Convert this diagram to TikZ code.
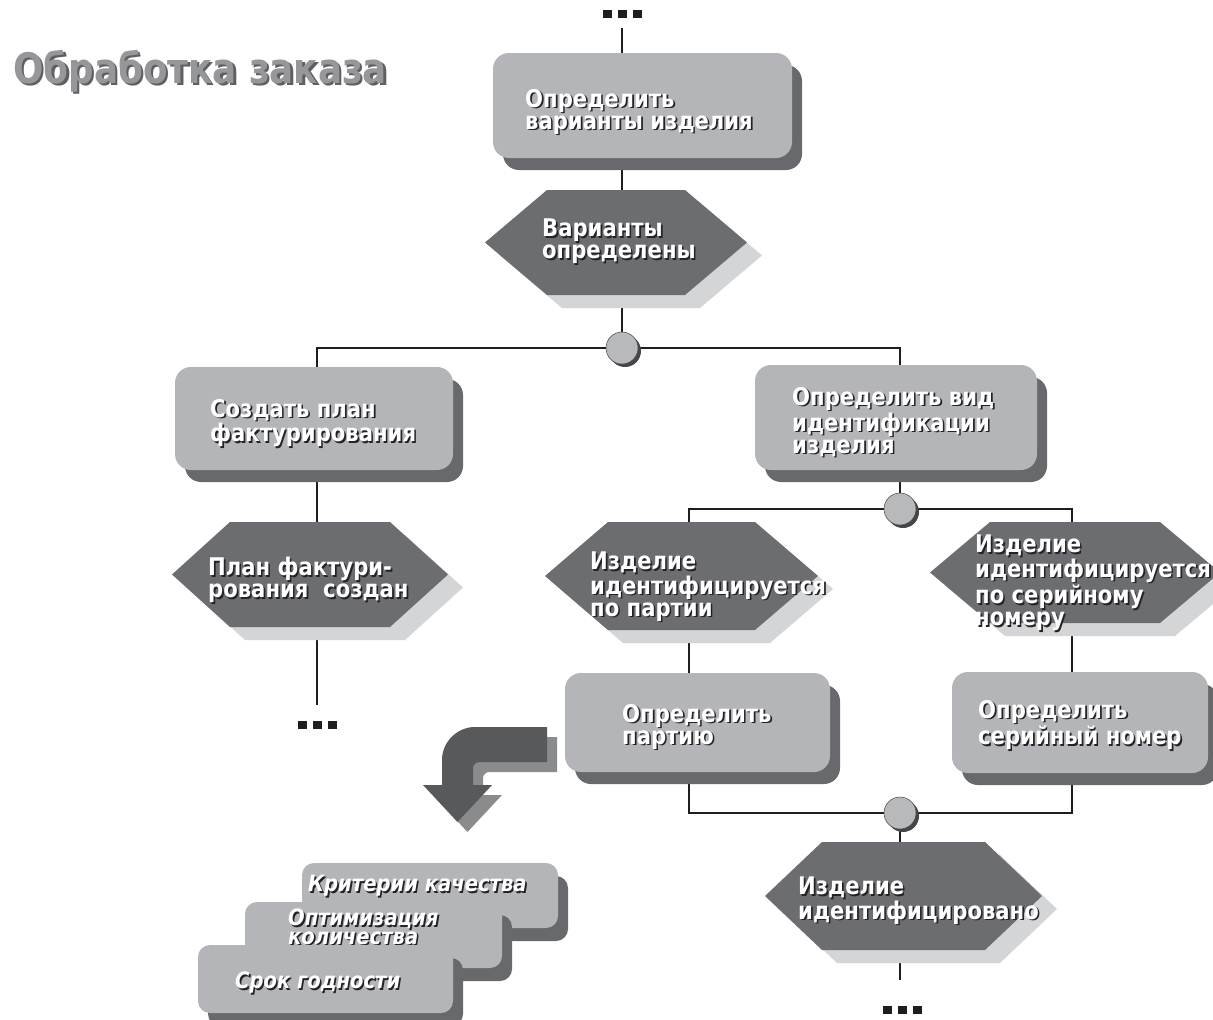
\documentclass[tikz,border=0pt]{standalone}
\usepackage{fontspec}
\setmainfont{DejaVu Sans}
\newfontfamily\lblf[FakeStretch=0.87]{DejaVu Sans}
\newfontfamily\ttlf[FakeStretch=0.85]{DejaVu Sans}
\usetikzlibrary{shadows}
\pgfdeclarelayer{bg}
\pgfsetlayers{bg,main}
\definecolor{boxfill}{RGB}{179,181,184}
\definecolor{boxsh}{RGB}{104,105,108}
\definecolor{hexfill}{RGB}{108,109,112}
\definecolor{hexsh}{RGB}{212,213,215}
\definecolor{circfill}{RGB}{184,185,187}
\definecolor{circsh}{RGB}{70,70,72}
\definecolor{arrdark}{RGB}{88,89,91}
\definecolor{arrsh}{RGB}{138,139,141}
\definecolor{titlefg}{RGB}{150,151,154}
\definecolor{titlesh}{RGB}{95,95,98}
\definecolor{tsh}{RGB}{35,35,37}
\definecolor{linec}{RGB}{30,30,30}
\newcommand\shd[1]{\leavevmode\rlap{\raisebox{-1.6pt}{\kern1.6pt\textcolor{tsh}{#1}}}#1}
\newcommand\ttlsh[1]{\leavevmode\rlap{\raisebox{-2.5pt}{\kern2.5pt\textcolor{titlesh}{#1}}}#1}
\newcommand\hexp[4]{([xshift=#3,yshift=#4]#1.west) -- ([xshift=#2+#3,yshift=#4]#1.north west) -- ([xshift=-#2+#3,yshift=#4]#1.north east) -- ([xshift=#3,yshift=#4]#1.east) -- ([xshift=-#2+#3,yshift=#4]#1.south east) -- ([xshift=#2+#3,yshift=#4]#1.south west) -- cycle}
\newcommand\dotsq{\rule{9pt}{8pt}\hspace{6pt}\rule{9pt}{8pt}\hspace{6pt}\rule{9pt}{8pt}}
\tikzset{
  pbox/.style={rounded corners=16pt, fill=boxfill, inner sep=0pt,
    drop shadow={shadow xshift=10pt, shadow yshift=-12pt, fill=boxsh, opacity=1}},
  sbox/.style={rounded corners=12pt, fill=boxfill, inner sep=0pt,
    drop shadow={shadow xshift=10pt, shadow yshift=-13pt, fill=boxsh, opacity=1}},
  hexnode/.style={inner sep=0pt, outer sep=0pt},
  lbl/.style={text=white, font=\lblf\bfseries\fontsize{24.3}{22}\selectfont, align=left, anchor=north west, inner sep=0pt},
  slbl/.style={text=white, font=\lblf\bfseries\itshape\fontsize{22.5}{16}\selectfont, align=left, anchor=north west, inner sep=0pt},
  junc/.style={circle, minimum size=32pt, inner sep=0pt, fill=circfill, draw=circsh, line width=0.5pt,
    drop shadow={shadow xshift=3pt, shadow yshift=-3pt, fill=circsh, opacity=1}},
  dotnode/.style={inner xsep=0pt, text=linec},
  conn/.style={line width=1.2pt, draw=linec}
}
\begin{document}
\begin{tikzpicture}[x=1pt,y=-1pt]
\useasboundingbox (0,0) rectangle (1213,1020);

% title
\node[anchor=base west, inner sep=0pt, text=titlefg, font=\ttlf\bfseries\fontsize{42}{42}\selectfont] (title) at (13,83) {\ttlsh{Обработка заказа}};

% dots
\node[dotnode, inner ysep=10pt] (dtop) at (622,14) {\dotsq};
\node[dotnode, inner ysep=16pt] (dL) at (317,725) {\dotsq};
\node[dotnode, inner ysep=26pt] (dB) at (902,1010) {\dotsq};

% boxes
\node[pbox, minimum width=299pt, minimum height=105pt] (b1) at (642.5,105.5) {};
\node[pbox, minimum width=278pt, minimum height=103pt] (b2) at (314,418.5) {};
\node[pbox, minimum width=282pt, minimum height=105pt] (b3) at (896,417.5) {};
\node[pbox, minimum width=265pt, minimum height=99pt] (b4) at (697.5,722.5) {};
\node[pbox, minimum width=256pt, minimum height=101pt] (b5) at (1080,722.5) {};

% hexagons
\node[hexnode, minimum width=262pt, minimum height=105pt] (h1) at (616,242.5) {};
\node[hexnode, minimum width=276pt, minimum height=105pt] (h2) at (310,574.5) {};
\node[hexnode, minimum width=273pt, minimum height=108pt] (h3) at (681.5,576) {};
\node[hexnode, minimum width=290pt, minimum height=101pt] (h4) at (1075,572.5) {};
\node[hexnode, minimum width=277pt, minimum height=108pt] (h5) at (903.5,896) {};
\fill[hexsh] \hexp{h1}{62}{15}{-13};
\fill[hexfill] \hexp{h1}{62}{0}{0};
\fill[hexsh] \hexp{h2}{58}{15}{-13};
\fill[hexfill] \hexp{h2}{58}{0}{0};
\fill[hexsh] \hexp{h3}{63}{15}{-13};
\fill[hexfill] \hexp{h3}{63}{0}{0};
\fill[hexsh] \hexp{h4}{60}{15}{-13};
\fill[hexfill] \hexp{h4}{60}{0}{0};
\fill[hexsh] \hexp{h5}{57}{15}{-13};
\fill[hexfill] \hexp{h5}{57}{0}{0};

% junctions
\node[junc] (j1) at (622,348) {};
\node[junc] (j2) at (900,509) {};
\node[junc] (j3) at (900,813) {};
\coordinate (kL) at (317,348);
\coordinate (kR) at (900,348);
\coordinate (kL2) at (689,509);
\coordinate (kR2) at (1072,509);
\coordinate (kL3) at (689,813);
\coordinate (kR3) at (1072,813);

% connectors (behind the shapes)
\begin{pgfonlayer}{bg}
\fill[white] (0,0) rectangle (1213,1020);
\draw[conn] (dtop.south) -- (dtop.south |- b1.north);
\draw[conn] (dtop |- b1.south) -- (dtop |- h1.north);
\draw[conn] (dtop |- h1.south) -- (j1);
\draw[conn] (j1) -- (kL) -- (kL |- b2.north);
\draw[conn] (j1) -- (kR) -- (kR |- b3.north);
\draw[conn] (kL |- b2.south) -- (kL |- h2.north);
\draw[conn] (kL |- h2.south) -- (dL.north);
\draw[conn] (kR |- b3.south) -- (j2);
\draw[conn] (j2) -- (kL2) -- (kL2 |- h3.north);
\draw[conn] (j2) -- (kR2) -- (kR2 |- h4.north);
\draw[conn] (kL2 |- h3.south) -- (kL2 |- b4.north);
\draw[conn] (kR2 |- h4.south) -- (kR2 |- b5.north);
\draw[conn] (kL2 |- b4.south) -- (kL3) -- (j3);
\draw[conn] (kR2 |- b5.south) -- (kR3) -- (j3);
\draw[conn] (j3) -- (j3 |- h5.north);
\draw[conn] (j3 |- h5.south) -- (j3 |- dB.north);
\end{pgfonlayer}

% bent arrow
\fill[arrsh, shift={(10,10)}] (547,727) -- (475,727) .. controls (457,727) and (442,742) .. (442,760) -- (442,785) -- (423,785) -- (457.5,822) -- (492,785) -- (473,785) -- (473,768) .. controls (473,765) and (476,762) .. (479,762) -- (547,762) -- cycle;
\fill[arrdark] (547,727) -- (475,727) .. controls (457,727) and (442,742) .. (442,760) -- (442,785) -- (423,785) -- (457.5,822) -- (492,785) -- (473,785) -- (473,768) .. controls (473,765) and (476,762) .. (479,762) -- (547,762) -- cycle;

% labels
\node[lbl] (t1) at (525,89) {\shd{Определить}\\\shd{варианты изделия}};
\node[lbl] (th1) at (542,219) {\shd{Варианты}\\\shd{определены}};
\node[lbl] (t2) at (210,399) {\shd{Создать план}\\\shd{фактурирования}};
\node[lbl] (th2) at (208,557) {\shd{План фактури-}\\\shd{рования\ \ создан}};
\node[lbl] (t3) at (792,387) {\shd{Определить вид}\\\shd{идентификации}\\\shd{изделия}};
\node[lbl] (th3) at (590,552) {\shd{Изделие}\\\shd{идентифицируется}\\\shd{по партии}};
\node[lbl] (th4) at (975,535) {\shd{Изделие}\\\shd{идентифицируется}\\\shd{по серийному}\\\shd{номеру}};
\node[lbl] (t4) at (622,704) {\shd{Определить}\\\shd{партию}};
\node[lbl] (t5) at (978,700) {\shd{Определить}\\\shd{серийный номер}};
\node[lbl] (th5) at (798,877) {\shd{Изделие}\\\shd{идентифицировано}};

% stacked boxes
\node[sbox, minimum width=256pt, minimum height=65pt] (s1) at (430,895.5) {};
\node[slbl] (ts1) at (308,875) {\shd{Критерии качества}};
\node[sbox, minimum width=257pt, minimum height=66pt] (s2) at (373.5,935) {};
\node[slbl] (ts2) at (288,909) {\shd{Оптимизация}\\\shd{количества}};
\node[sbox, minimum width=255pt, minimum height=68pt] (s3) at (325.5,979) {};
\node[slbl] (ts3) at (235,972) {\shd{Срок годности}};
\end{tikzpicture}
\end{document}
